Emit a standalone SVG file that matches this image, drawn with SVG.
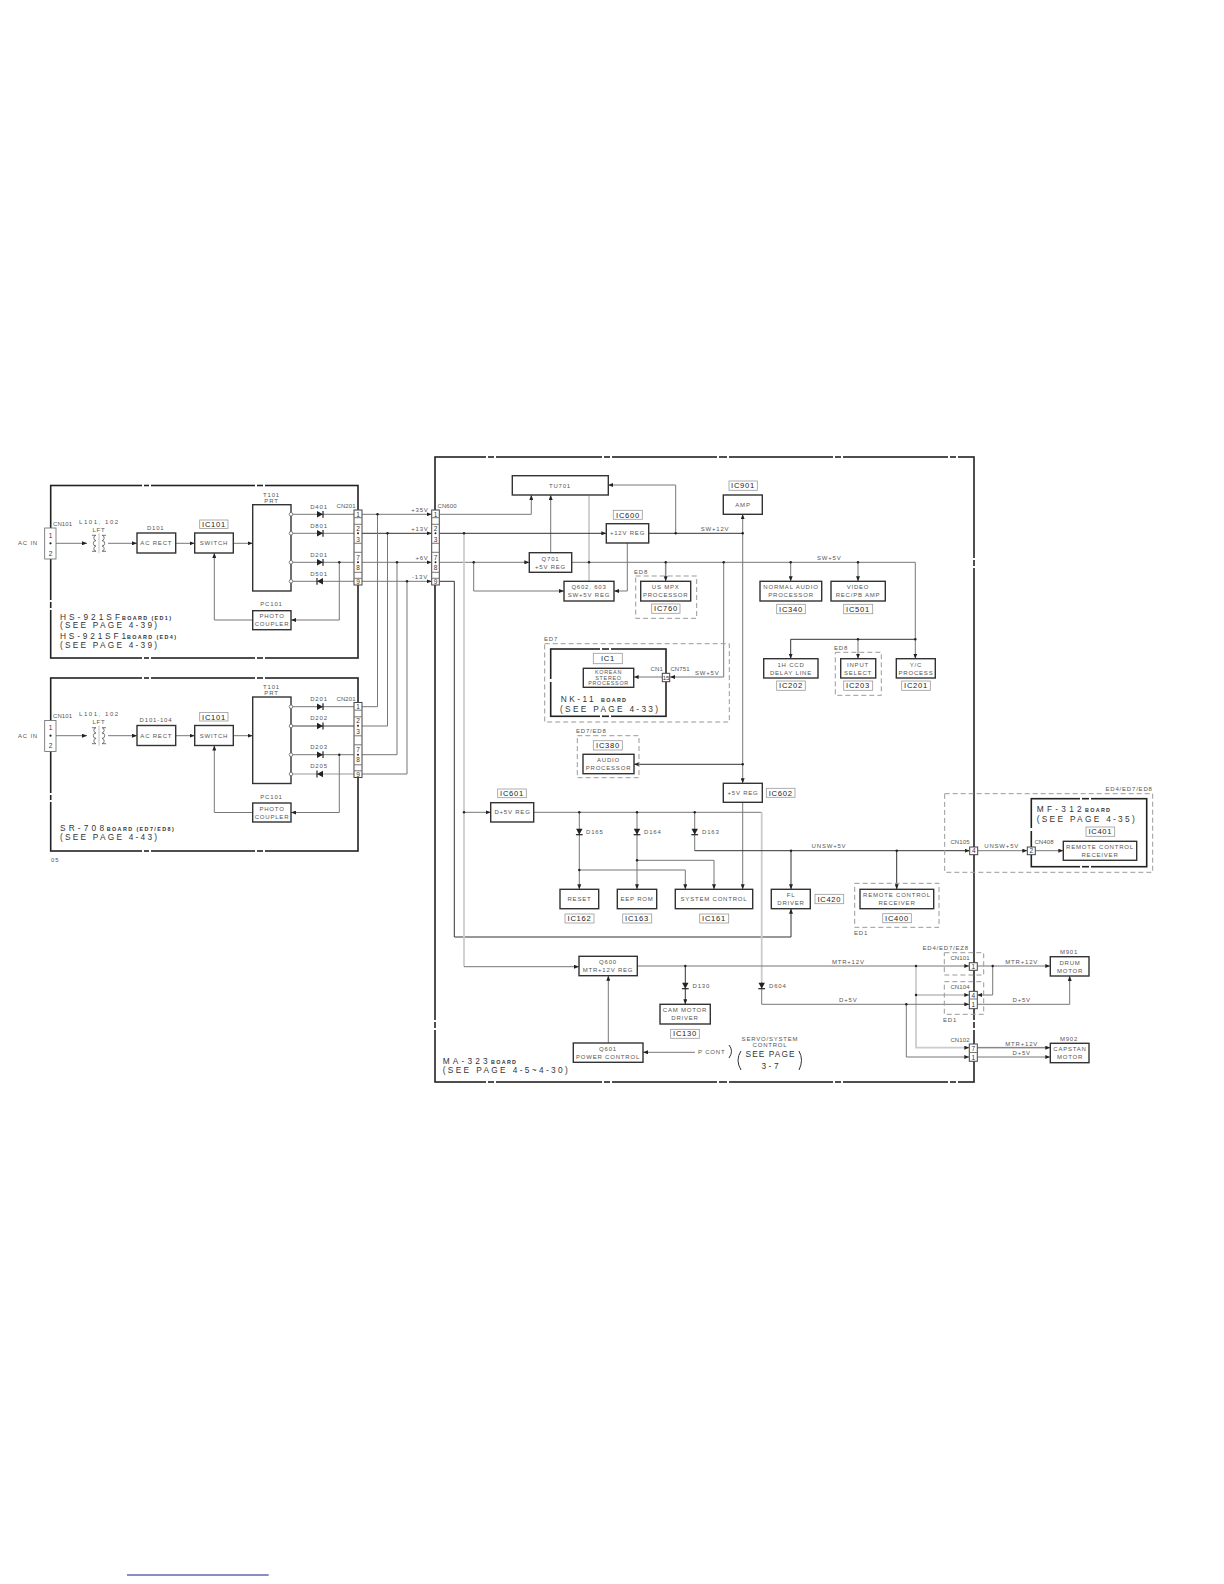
<svg xmlns="http://www.w3.org/2000/svg" width="1224" height="1584" viewBox="0 0 1224 1584">
<style>
text{font-family:"Liberation Sans",Arial,sans-serif;font-size:6px;letter-spacing:.8px;fill:#555;dominant-baseline:central}
.m{text-anchor:middle}
.cn{letter-spacing:.1px}
.sm{font-size:5.4px;letter-spacing:.7px}
.ic{font-size:7.6px;letter-spacing:.7px;fill:#222;text-anchor:middle}
.big{font-size:8.3px;fill:#333;letter-spacing:0}
.bd{font-size:5.4px;font-weight:bold;fill:#333;letter-spacing:0}
.n{font-size:6.5px;fill:#333;text-anchor:middle;letter-spacing:0}
.b{fill:#fff;stroke:#333;stroke-width:1.4}
.lb{fill:#fff;stroke:#999;stroke-width:.8}
.c{fill:#fff;stroke:#444;stroke-width:1}
.fr{fill:none;stroke:#222;stroke-width:1.6}
.gap{fill:none;stroke:#fff;stroke-width:3}
.ds{fill:none;stroke:#999;stroke-width:1;stroke-dasharray:5 3}
.w{fill:none;stroke:#777;stroke-width:1}
.d{fill:none;stroke:#333;stroke-width:1}
.l{fill:none;stroke:#ccc;stroke-width:1.8}
.a{marker-end:url(#ar)}
.j{fill:#222}
.t{fill:#fff;stroke:#666;stroke-width:.8}
</style>
<defs>
<marker id="ar" markerUnits="userSpaceOnUse" viewBox="0 0 5 4" refX="5" refY="2" markerWidth="5" markerHeight="4" orient="auto"><path d="M0 0L5 2L0 4Z" fill="#222"/></marker>
<g id="dio"><path d="M-3-3.2L3 0L-3 3.2Z" fill="#222"/><path d="M3-3.4V3.4" stroke="#222" stroke-width="1.2"/></g>
<g id="lft" fill="none" stroke="#666" stroke-width=".9"><path d="M-7-8H-3A2.7 2.7 0 0 0-3-2.7A2.7 2.7 0 0 0-3 2.7A2.7 2.7 0 0 0-3 8H-7"/><path d="M7-8H3A2.7 2.7 0 0 1 3-2.7A2.7 2.7 0 0 1 3 2.7A2.7 2.7 0 0 1 3 8H7"/><path d="M0-10V10" stroke="#bbb"/></g>
</defs>
<rect width="1224" height="1584" fill="#fff"/>

<g id="frames">
<rect class="fr" x="50.7" y="485.5" width="307.3" height="172.5"/>
<rect class="fr" x="50.7" y="678" width="307.3" height="173"/>
<rect class="fr" x="435" y="457" width="539" height="625"/>
<path class="gap" d="M142 485.5h2M149 485.5h2M255 485.5h2M263 485.5h2M142 658h2M149 658h2M255 658h2M263 658h2M50.7 600v2M50.7 608v2M142 678h2M149 678h2M255 678h2M263 678h2M142 851h2M149 851h2M255 851h2M263 851h2M50.7 793v2M50.7 800v2"/>
<path class="gap" d="M486 457h2M494 457h2M602 457h2M610 457h2M717 457h2M727 457h2M833 457h2M841 457h2M948 457h2M956 457h2M486 1082h2M494 1082h2M602 1082h2M610 1082h2M717 1082h2M727 1082h2M833 1082h2M841 1082h2M948 1082h2M956 1082h2M435 1020v2M435 1028v2M974 558v2M974 566v2M974 1020v2M974 1028v2"/>
</g>

<g id="connectors">
<path class="w a" d="M56 543.3H87"/><path class="w a" d="M108 543.3H137"/><path class="w a" d="M175.7 543.3H194.7"/><path class="w a" d="M233.3 543.3H252.7"/>
<path class="w" d="M291 514.3H354"/><path class="w" d="M291 533.3H354"/><path class="w" d="M291 562.3H354"/><path class="w" d="M291 581.3H354"/>
<path class="w a" d="M339.3 562.3V620H291"/><path class="w a" d="M252.7 620H214.3V553"/>
<path class="w a" d="M56 735.7H87"/><path class="w a" d="M108 735.7H137"/><path class="w a" d="M175.7 735.7H194.7"/><path class="w a" d="M233.3 735.7H252.7"/>
<path class="w" d="M291 706.7H354"/><path class="l" d="M291 726H354"/><path class="w" d="M291 754.7H354"/><path class="l" d="M291 774H354"/>
<path class="w" d="M291 726H354"/>
<path class="w a" d="M339.3 754.7V812.5H291"/><path class="w a" d="M252.7 812.5H214.3V745.5"/>
<path class="w a" d="M362 514.3H431.7"/><path class="d a" d="M362 533.3H431.7"/><path class="w a" d="M362 562.3H431.7"/><path class="w a" d="M362 581.3H431.7"/>
<path class="w" d="M377.5 514.3V706.7H362"/><path class="w" d="M387.5 533.3V726H362"/><path class="w" d="M397 562.3V754.7H362"/><path class="w" d="M407 581.3V774H362"/>
<path class="w a" d="M439.3 514.3H531.3V495"/><path class="w a" d="M550.7 552.7V495"/><path class="l" d="M589 581.3V496"/>
<path class="d a" d="M439.3 533.3H606.3"/><path class="d" d="M648.7 533.3H742.7"/><path class="w a" d="M675.7 533.3V485H608.3"/>
<path class="w a" d="M627.3 543V591H614"/>
<path class="w a" d="M439.3 562.3H529.3"/><path class="w a" d="M473.7 562.3V591H564"/>
<path class="w" d="M571.7 562.3H915.3"/><path class="w a" d="M915.3 562.3V658.7"/>
<path class="l" d="M665.7 562.3V578"/><path class="w a" d="M665.7 562.3V581.3"/><path class="w a" d="M790.7 562.3V581.3"/><path class="w a" d="M858 562.3V581.3"/>
<path class="d" d="M790.7 639.3H915.3"/><path class="d a" d="M790.7 639.3V658.7"/><path class="w a" d="M858 639.3V658.7"/>
<path class="w a" d="M723.7 562.3V677H670"/><path class="w a" d="M662.3 677H633.7"/>
<path class="w a" d="M742.7 533.3V514.3"/><path class="w a" d="M742.7 533.3V783.3"/><path class="d a" d="M742.7 764.3H634"/>
<path class="w a" d="M742.7 802.3V889.3"/>
<path class="d" d="M439.3 581.3H454.3V937H791"/><path class="d a" d="M791 937V908.7"/>
<path class="l" d="M464 533.3V966.7"/><path class="w a" d="M464 966.7H579"/><path class="w a" d="M464 812.3H490.7"/>
<path class="w" d="M533.7 812.3H761.7"/><path class="l" d="M761.7 812.3V982"/><path class="w" d="M761.7 982V1004.3H906"/>
<path class="w a" d="M579.3 812.3V889.3"/><path class="w a" d="M637 812.3V889.3"/><path class="w" d="M694.7 812.3V850.7"/>
<path class="w a" d="M579.3 870H685.3V889.3"/><path class="w a" d="M637 860.3H714V889.3"/>
<path class="d a" d="M694.7 850.7H969.7"/><path class="d a" d="M791 850.7V889.3"/><path class="d a" d="M896.7 850.7V889.3"/>
<path class="w a" d="M977.7 850.7H1027.3"/><path class="w a" d="M1035.3 850.7H1063.3"/>
<path class="w a" d="M637.3 966H969.3"/><path class="d a" d="M685.3 966V1004.3"/>
<path class="w a" d="M608.3 1043V975.7"/><path class="w a" d="M695 1052.3H643"/>
<path class="w a" d="M977.3 966H1050.3"/><path class="w a" d="M992.7 966V995H977.3"/>
<path class="l a" d="M916 966V995H969.3"/><path class="l a" d="M916 995V1047.7H969.3"/>
<path class="w a" d="M906 1004.3H969.3"/><path class="w a" d="M906.3 1004.3V1057H969.3"/>
<path class="w a" d="M977.3 1004.3H1069.7V976"/>
<path class="l" d="M977.3 1047.7H1046"/><path class="w a" d="M977.3 1047.7H1050.3"/><path class="w a" d="M977.3 1057H1050.3"/>
<g class="j">
<circle cx="339.3" cy="562.3" r="1.2"/><circle cx="339.3" cy="754.7" r="1.2"/>
<circle cx="377.5" cy="514.3" r="1.2"/><circle cx="387.5" cy="533.3" r="1.2"/><circle cx="397" cy="562.3" r="1.2"/><circle cx="407" cy="581.3" r="1.2"/>
<circle cx="464" cy="533.3" r="1.2"/><circle cx="473.7" cy="562.3" r="1.2"/><circle cx="589" cy="562.3" r="1.2"/><circle cx="665.7" cy="562.3" r="1.2"/><circle cx="723.7" cy="562.3" r="1.2"/><circle cx="790.7" cy="562.3" r="1.2"/><circle cx="858" cy="562.3" r="1.2"/>
<circle cx="675.7" cy="533.3" r="1.2"/><circle cx="742.7" cy="533.3" r="1.2"/><circle cx="858" cy="639.3" r="1.2"/><circle cx="915.3" cy="639.3" r="1.2"/><circle cx="742.7" cy="764.3" r="1.2"/>
<circle cx="464" cy="812.3" r="1.2"/><circle cx="579.3" cy="812.3" r="1.2"/><circle cx="637" cy="812.3" r="1.2"/><circle cx="694.7" cy="812.3" r="1.2"/><circle cx="579.3" cy="870" r="1.2"/><circle cx="637" cy="860.3" r="1.2"/>
<circle cx="791" cy="850.7" r="1.2"/><circle cx="896.7" cy="850.7" r="1.2"/><circle cx="685.3" cy="966" r="1.2"/><circle cx="916" cy="966" r="1.2"/><circle cx="916" cy="995" r="1.2"/><circle cx="906.3" cy="1004.3" r="1.2"/><circle cx="992.7" cy="966" r="1.2"/>
</g>
</g>

<g id="diodes">
<use href="#dio" x="320" y="514.3"/><use href="#dio" x="320" y="533.3"/><use href="#dio" x="320" y="562.3"/><use href="#dio" transform="translate(320 581.3) rotate(180)"/>
<use href="#dio" x="320" y="706.7"/><use href="#dio" x="320" y="726"/><use href="#dio" x="320" y="754.7"/><use href="#dio" transform="translate(320 774) rotate(180)"/>
<use href="#dio" transform="translate(579.3 831.7) rotate(90)"/><use href="#dio" transform="translate(637 831.7) rotate(90)"/><use href="#dio" transform="translate(694.7 831.7) rotate(90)"/>
<use href="#dio" transform="translate(685.3 985.7) rotate(90)"/><use href="#dio" transform="translate(761.7 985.7) rotate(90)"/>
</g>

<g id="board1">
<g id="b1-cn101"><rect class="t" x="44.7" y="528" width="11.3" height="31"/><text class="n" x="50.5" y="535">1</text><circle class="j" cx="50.5" cy="543.3" r="1.1"/><text class="n" x="50.5" y="553">2</text></g>
<text class="cn" x="53" y="524">CN101</text><text x="18" y="543">AC IN</text><text x="79" y="522" textLength="40">L101, 102</text><text class="m" x="99" y="530">LFT</text><use href="#lft" x="99" y="543.3"/>
<g id="b1-d101"><text class="m" x="155.7" y="528">D101</text><rect class="b" x="137" y="533" width="38.7" height="20"/><text class="m" x="156.3" y="543">AC RECT</text></g>
<g id="b1-ic101"><rect class="lb" x="199.7" y="520" width="28.3" height="8.5"/><text class="ic" x="214" y="524.5">IC101</text><rect class="b" x="194.7" y="533" width="38.6" height="20"/><text class="m" x="214" y="543">SWITCH</text></g>
<g id="b1-t101"><text class="m" x="271.5" y="495">T101</text><text class="m" x="271.5" y="501">PRT</text><rect class="b" x="252.7" y="504.7" width="38.3" height="86.3"/>
<circle class="t" cx="291" cy="514.3" r="1.8"/><circle class="t" cx="291" cy="533.3" r="1.8"/><circle class="t" cx="291" cy="562.3" r="1.8"/><circle class="t" cx="291" cy="581.3" r="1.8"/></g>
<text class="m" x="319" y="506.5">D401</text><text class="m" x="319" y="526">D801</text><text class="m" x="319" y="555">D201</text><text class="m" x="319" y="574">D501</text>
<g id="b1-pc101"><text class="m" x="271.5" y="604">PC101</text><rect class="b" x="252.7" y="610.7" width="38.3" height="19"/><text class="m" x="272" y="616">PHOTO</text><text class="m" x="272" y="624">COUPLER</text></g>
<g id="b1-cn201"><text class="cn" x="336.5" y="506">CN201</text><rect class="c" x="354" y="510" width="8" height="75"/><path class="w" d="M354 517.7h8M354 524.3h8M354 543.3h8M354 552.3h8M354 572.3h8M354 578.3h8"/>
<text class="n" x="358" y="514">1</text><text class="n" x="358" y="528">2</text><circle class="j" cx="358" cy="533.3" r="1"/><text class="n" x="358" y="539">3</text><text class="n" x="358" y="557">7</text><circle class="j" cx="358" cy="562.3" r="1"/><text class="n" x="358" y="567">8</text><text class="n" x="358" y="581">9</text></g>
<text class="big" x="60" y="616.7" textLength="60">HS-921SF</text><text class="bd" x="122" y="617.5" textLength="49">BOARD (ED1)</text>
<text class="big" x="60" y="624.5" textLength="97">(SEE PAGE 4-39)</text>
<text class="big" x="60" y="635.7" textLength="66">HS-921SF1</text><text class="bd" x="127" y="636.7" textLength="49">BOARD (ED4)</text>
<text class="big" x="60" y="645" textLength="97">(SEE PAGE 4-39)</text>
</g>

<g id="board2">
<g id="b2-cn101"><rect class="t" x="44.7" y="720.4" width="11.3" height="31"/><text class="n" x="50.5" y="727.4">1</text><circle class="j" cx="50.5" cy="735.7" r="1.1"/><text class="n" x="50.5" y="745.4">2</text></g>
<text class="cn" x="53" y="716">CN101</text><text x="18" y="735.5">AC IN</text><text x="79" y="714" textLength="40">L101, 102</text><text class="m" x="99" y="722">LFT</text><use href="#lft" x="99" y="735.7"/>
<g id="b2-d101"><text class="m" x="156" y="720">D101-104</text><rect class="b" x="137" y="725.5" width="38.7" height="20"/><text class="m" x="156.3" y="735.5">AC RECT</text></g>
<g id="b2-ic101"><rect class="lb" x="199.7" y="712.5" width="28.3" height="8.5"/><text class="ic" x="214" y="717">IC101</text><rect class="b" x="194.7" y="725.5" width="38.6" height="20"/><text class="m" x="214" y="735.5">SWITCH</text></g>
<g id="b2-t101"><text class="m" x="271.5" y="687">T101</text><text class="m" x="271.5" y="693">PRT</text><rect class="b" x="252.7" y="697" width="38.3" height="86.5"/>
<circle class="t" cx="291" cy="706.7" r="1.8"/><circle class="t" cx="291" cy="726" r="1.8"/><circle class="t" cx="291" cy="754.7" r="1.8"/><circle class="t" cx="291" cy="774" r="1.8"/></g>
<text class="m" x="319" y="699">D201</text><text class="m" x="319" y="718">D202</text><text class="m" x="319" y="747">D203</text><text class="m" x="319" y="766">D205</text>
<g id="b2-pc101"><text class="m" x="271.5" y="796.5">PC101</text><rect class="b" x="252.7" y="803" width="38.3" height="19"/><text class="m" x="272" y="808.5">PHOTO</text><text class="m" x="272" y="816.5">COUPLER</text></g>
<g id="b2-cn201"><text class="cn" x="336.5" y="698.5">CN201</text><rect class="c" x="354" y="702.5" width="8" height="75"/><path class="w" d="M354 710.2h8M354 716.8h8M354 735.8h8M354 744.8h8M354 764.8h8M354 770.8h8"/>
<text class="n" x="358" y="706.5">1</text><text class="n" x="358" y="720.5">2</text><circle class="j" cx="358" cy="725.8" r="1"/><text class="n" x="358" y="731.5">3</text><text class="n" x="358" y="749.5">7</text><circle class="j" cx="358" cy="754.8" r="1"/><text class="n" x="358" y="759.5">8</text><text class="n" x="358" y="774">9</text></g>
<text class="big" x="60" y="828" textLength="44">SR-708</text><text class="bd" x="106.7" y="829" textLength="67">BOARD (ED7/ED8)</text>
<text class="big" x="60" y="837" textLength="97">(SEE PAGE 4-43)</text>
<text x="51" y="859.7">05</text>
</g>

<text class="m" x="420" y="510">+35V</text><text class="m" x="420" y="529">+13V</text><text class="m" x="422" y="558">+6V</text><text class="m" x="420" y="577">-13V</text>

<g id="cn600"><text class="cn" x="437.5" y="506">CN600</text><rect class="c" x="431.7" y="510" width="7.6" height="75"/><path class="w" d="M431.7 517.7h7.6M431.7 524.3h7.6M431.7 543.3h7.6M431.7 552.3h7.6M431.7 572.3h7.6M431.7 578.3h7.6"/>
<text class="n" x="435.5" y="514">1</text><text class="n" x="435.5" y="528">2</text><circle class="j" cx="435.5" cy="533.3" r="1"/><text class="n" x="435.5" y="539">3</text><text class="n" x="435.5" y="557">7</text><circle class="j" cx="435.5" cy="562.3" r="1"/><text class="n" x="435.5" y="567">8</text><text class="n" x="435.5" y="581">9</text></g>

<g id="tu701"><rect class="b" x="512.3" y="475.7" width="96" height="19.3"/><text class="m" x="560" y="485.5">TU701</text></g>
<g id="ic600"><rect class="lb" x="613.3" y="510.3" width="29" height="9"/><text class="ic" x="628" y="515">IC600</text><rect class="b" x="606.3" y="523.7" width="42.4" height="19.3"/><text class="m" x="627.5" y="533.3">+12V REG</text></g>
<g id="q701"><rect class="b" x="529.3" y="552.7" width="42.4" height="19.6"/><text class="m" x="550.5" y="558.5">Q701</text><text class="m" x="550.5" y="566.5">+5V REG</text></g>
<g id="q602"><rect class="b" x="564" y="581.3" width="50" height="19.7"/><text class="m" x="589" y="587">Q602, 603</text><text class="m" x="589" y="595">SW+5V REG</text></g>
<g id="ic901"><rect class="lb" x="729" y="481" width="28.3" height="9.3"/><text class="ic" x="743" y="485.7">IC901</text><rect class="b" x="723.3" y="495" width="39" height="19.3"/><text class="m" x="743" y="504.7">AMP</text></g>
<text class="m" x="715" y="529">SW+12V</text><text class="m" x="829.3" y="558">SW+5V</text>
<g id="ic760"><rect class="ds" x="635.7" y="576" width="61" height="42.3"/><text x="634" y="571.7">ED8</text><rect class="b" x="640.7" y="581.3" width="50" height="19.7"/><text class="m" x="665.7" y="587">US MPX</text><text class="m" x="665.7" y="595">PROCESSOR</text><rect class="lb" x="651.7" y="604" width="28.3" height="9.3"/><text class="ic" x="666" y="608.7">IC760</text></g>
<g id="ic340"><rect class="b" x="760" y="581.3" width="61.7" height="19.7"/><text class="m" x="791" y="587">NORMAL AUDIO</text><text class="m" x="791" y="595">PROCESSOR</text><rect class="lb" x="776.7" y="604.3" width="28.6" height="9.4"/><text class="ic" x="791" y="609">IC340</text></g>
<g id="ic501"><rect class="b" x="831" y="581.3" width="54.3" height="19.7"/><text class="m" x="858" y="587">VIDEO</text><text class="m" x="858" y="595">REC/PB AMP</text><rect class="lb" x="843.7" y="604.3" width="29" height="9.4"/><text class="ic" x="858" y="609">IC501</text></g>
<g id="ic202"><rect class="b" x="763.7" y="658.7" width="54.3" height="19.3"/><text class="m" x="791" y="664.5">1H CCD</text><text class="m" x="791" y="672.5">DELAY LINE</text><rect class="lb" x="776.7" y="681" width="28.6" height="9.3"/><text class="ic" x="791" y="685.7">IC202</text></g>
<g id="ic203"><rect class="ds" x="835.3" y="652.3" width="46" height="43"/><text x="834" y="648">ED8</text><rect class="b" x="840.7" y="658.7" width="35" height="19.3"/><text class="m" x="858" y="664.5">INPUT</text><text class="m" x="858" y="672.5">SELECT</text><rect class="lb" x="843.7" y="681" width="29" height="9.3"/><text class="ic" x="858" y="685.7">IC203</text></g>
<g id="ic201"><rect class="b" x="896.3" y="658.7" width="39" height="19.3"/><text class="m" x="916" y="664.5">Y/C</text><text class="m" x="916" y="672.5">PROCESS</text><rect class="lb" x="901.7" y="681" width="28.6" height="9.3"/><text class="ic" x="916" y="685.7">IC201</text></g>

<g id="nk11"><rect class="ds" x="544.7" y="643.7" width="184.6" height="78.3"/><text x="544" y="638.7">ED7</text>
<rect class="fr" x="550.7" y="649" width="115.3" height="67.3"/><path class="gap" d="M600 649h2M609 649h2M600 716.3h2M609 716.3h2M550.7 679v3"/>
<rect class="lb" x="593.3" y="653.3" width="29" height="10.4"/><text class="ic" x="608" y="658.5">IC1</text>
<rect class="b" x="583.3" y="668.3" width="50.4" height="19"/><text class="m sm" x="608.5" y="672">KOREAN</text><text class="m sm" x="608.5" y="677.7">STEREO</text><text class="m sm" x="608.5" y="683.3">PROCESSOR</text>
<rect class="c" x="662.3" y="673.3" width="7.4" height="8.4"/><text class="n" x="666" y="677.5" style="font-size:6px">15</text>
<text class="m cn" x="656.7" y="669">CN1</text><text class="m cn" x="680" y="669">CN751</text><text class="m" x="707.3" y="673.3">SW+5V</text>
<text class="big" x="560.7" y="699" textLength="33">NK-11</text><text class="bd" x="601" y="700" textLength="25">BOARD</text><text class="big" x="560" y="708.5" textLength="98">(SEE PAGE 4-33)</text></g>

<g id="ic380"><rect class="ds" x="577.3" y="735.7" width="61.7" height="42"/><text x="576" y="731">ED7/ED8</text><rect class="lb" x="593.3" y="740.7" width="29" height="9.3"/><text class="ic" x="608" y="745.3">IC380</text><rect class="b" x="583" y="754.3" width="51" height="19.4"/><text class="m" x="608.5" y="760">AUDIO</text><text class="m" x="608.5" y="768">PROCESSOR</text></g>
<g id="ic602"><rect class="b" x="723.3" y="783.3" width="39" height="19"/><text class="m" x="743" y="793">+5V REG</text><rect class="lb" x="766.3" y="788.3" width="28.7" height="9"/><text class="ic" x="780.7" y="793">IC602</text></g>
<g id="ic601"><rect class="lb" x="497.7" y="789" width="28.6" height="8.7"/><text class="ic" x="512" y="793.5">IC601</text><rect class="b" x="490.7" y="802.7" width="43" height="19.3"/><text class="m" x="512.5" y="812.3">D+5V REG</text></g>
<text x="586" y="831.7">D165</text><text x="644" y="831.7">D164</text><text x="702" y="831.7">D163</text>
<g id="ic162"><rect class="b" x="560" y="889.3" width="38.7" height="19.4"/><text class="m" x="579.5" y="899">RESET</text><rect class="lb" x="565" y="914" width="29" height="9"/><text class="ic" x="579.5" y="918.5">IC162</text></g>
<g id="ic163"><rect class="b" x="617.3" y="889.3" width="39.4" height="19.4"/><text class="m" x="637" y="899">EEP ROM</text><rect class="lb" x="622.7" y="914" width="29" height="9"/><text class="ic" x="637" y="918.5">IC163</text></g>
<g id="ic161"><rect class="b" x="675.3" y="889.3" width="77.4" height="19.4"/><text class="m" x="714" y="899">SYSTEM CONTROL</text><rect class="lb" x="699.7" y="914" width="29" height="9"/><text class="ic" x="714" y="918.5">IC161</text></g>
<g id="ic420"><rect class="b" x="771.3" y="889.3" width="39" height="19.4"/><text class="m" x="791" y="895">FL</text><text class="m" x="791" y="903">DRIVER</text><rect class="lb" x="815" y="894.3" width="28.7" height="9.4"/><text class="ic" x="829.3" y="899">IC420</text></g>
<g id="ic400"><rect class="ds" x="854.7" y="883.3" width="84.3" height="44"/><text x="854" y="933">ED1</text><rect class="b" x="860" y="889.3" width="73.7" height="19.4"/><text class="m" x="897" y="895">REMOTE CONTROL</text><text class="m" x="897" y="903">RECEIVER</text><rect class="lb" x="882.7" y="913.7" width="28.6" height="9"/><text class="ic" x="897" y="918.2">IC400</text></g>
<text class="m" x="829" y="846">UNSW+5V</text>

<g id="mf312"><rect class="ds" x="944.7" y="793.7" width="208" height="78.6"/><text x="1152.7" y="788.7" style="text-anchor:end">ED4/ED7/ED8</text>
<rect class="fr" x="1031.3" y="798.7" width="115.4" height="68"/><path class="gap" d="M1080 798.7h2M1089 798.7h2M1080 866.7h2M1089 866.7h2M1031.3 828v3"/>
<text class="big" x="1036.7" y="809" textLength="45">MF-312</text><text class="bd" x="1085" y="810" textLength="25">BOARD</text><text class="big" x="1036.7" y="818.5" textLength="98">(SEE PAGE 4-35)</text>
<rect class="lb" x="1086" y="827" width="28.7" height="9.3"/><text class="ic" x="1100.3" y="831.7">IC401</text>
<rect class="b" x="1063.3" y="841.3" width="73.4" height="19"/><text class="m" x="1100" y="846.7">REMOTE CONTROL</text><text class="m" x="1100" y="854.7">RECEIVER</text></g>
<g id="cn105"><text class="m cn" x="960" y="842">CN105</text><rect class="c" x="969.7" y="847" width="8" height="7.7"/><text class="n" x="973.7" y="850.8">4</text></g>
<text class="m" x="1001.7" y="846">UNSW+5V</text>
<g id="cn408"><rect class="c" x="1027.3" y="847" width="8" height="7.7"/><text class="n" x="1031.3" y="850.8">2</text><text class="m cn" x="1044" y="842">CN408</text></g>

<g id="q600"><rect class="b" x="579" y="956.3" width="58.3" height="19.4"/><text class="m" x="608" y="962">Q600</text><text class="m" x="608" y="970">MTR+12V REG</text></g>
<text x="692.5" y="985.7">D130</text><text x="769" y="985.7">D604</text>
<g id="ic130"><rect class="b" x="660" y="1004.3" width="50.3" height="19.7"/><text class="m" x="685" y="1010">CAM MOTOR</text><text class="m" x="685" y="1018">DRIVER</text><rect class="lb" x="670.7" y="1029.3" width="28.6" height="9"/><text class="ic" x="685" y="1033.8">IC130</text></g>
<g id="q601"><rect class="b" x="573.3" y="1043" width="69.7" height="19.3"/><text class="m" x="608" y="1048.7">Q601</text><text class="m" x="608" y="1056.7">POWER CONTROL</text></g>
<text class="m" x="848.3" y="962">MTR+12V</text><text class="m" x="848.3" y="1000">D+5V</text>
<text class="m" x="711.7" y="1052">P CONT</text>
<path class="d" d="M729 1045Q734 1051 729 1058M741 1051Q735 1060 741 1070M799 1051Q804 1060 799 1070"/>
<text class="m" x="770" y="1039">SERVO/SYSTEM</text><text class="m" x="770" y="1045">CONTROL</text>
<text class="big" x="745.5" y="1054" textLength="49">SEE PAGE</text><text class="big" x="761.5" y="1066" textLength="17">3-7</text>
<text class="big" x="442.7" y="1060.7" textLength="45">MA-323</text><text class="bd" x="491" y="1062" textLength="25">BOARD</text><text class="big" x="442.7" y="1070" textLength="125">(SEE PAGE 4-5~4-30)</text>

<g id="motors">
<rect class="ds" x="944.3" y="952.7" width="39.4" height="22.3"/><rect class="ds" x="944.3" y="981.7" width="39.4" height="32.6"/>
<text class="m" x="945.7" y="948">ED4/ED7/EZ8</text><text class="m cn" x="960" y="958">CN101</text><text class="m cn" x="960" y="987">CN104</text><text x="943" y="1020">ED1</text><text class="m cn" x="960" y="1040">CN102</text>
<g id="cn101m"><rect class="c" x="969.3" y="962.7" width="8" height="7.6"/><text class="n" x="973.3" y="966.5">1</text></g>
<g id="cn104"><rect class="c" x="969.3" y="991.3" width="8" height="17.4"/><path class="w" d="M969.3 999h8"/><text class="n" x="973.3" y="995">4</text><text class="n" x="973.3" y="1004">1</text></g>
<g id="cn102"><rect class="c" x="969.3" y="1044" width="8" height="17.3"/><path class="w" d="M969.3 1052.5h8"/><text class="n" x="973.3" y="1048">7</text><text class="n" x="973.3" y="1057">1</text></g>
<g id="m901"><text class="m" x="1069" y="952">M901</text><rect class="b" x="1050.3" y="956.7" width="38.7" height="19.3"/><text class="m" x="1070" y="962.5">DRUM</text><text class="m" x="1070" y="970.5">MOTOR</text></g>
<g id="m902"><text class="m" x="1069" y="1039">M902</text><rect class="b" x="1050.3" y="1043.3" width="38.7" height="19.4"/><text class="m" x="1070" y="1049">CAPSTAN</text><text class="m" x="1070" y="1057">MOTOR</text></g>
<text class="m" x="1021.7" y="962">MTR+12V</text><text class="m" x="1021.7" y="1000">D+5V</text><text class="m" x="1021.7" y="1044">MTR+12V</text><text class="m" x="1021.7" y="1053">D+5V</text>
</g>
<path d="M127 1575H268.7" stroke="#1a1a8c" stroke-width="1.2" fill="none"/>
</svg>
